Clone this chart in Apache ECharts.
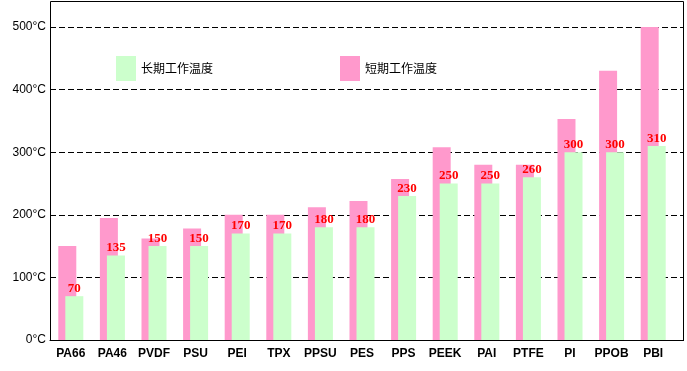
<!DOCTYPE html>
<html>
<head>
<meta charset="utf-8">
<script src="https://cdn.jsdelivr.net/npm/echarts@6/dist/echarts.min.js"></script>
<style>
html,body{margin:0;padding:0;background:#fff;}
#chart{width:687px;height:371px;}
</style>
</head>
<body>
<div id="chart"></div>
<script>
const categories = ['PA66','PA46','PVDF','PSU','PEI','TPX','PPSU','PES','PPS','PEEK','PAI','PTFE','PI','PPOB','PBI'];
const shortTerm = [150,195,162,178,200,200,212,222,257,308,280,280,353,430,500];
const longTerm = [70,135,150,150,170,170,180,180,230,250,250,260,300,300,310];
const yMin = 0, yMax = 500, yStep = 100;
const longName = '长期工作温度';
const shortName = '短期工作温度';

const chart = echarts.init(document.getElementById('chart'));
chart.setOption({
  animation: false,
  backgroundColor: '#fff',
  legend: [
    {data: [longName], left: 111, top: 51, itemWidth: 20, itemHeight: 25, icon: 'rect', selectedMode: false,
     textStyle: {fontSize: 12, color: '#000', fontFamily: 'Noto Sans CJK SC'}},
    {data: [shortName], left: 335, top: 51, itemWidth: 20, itemHeight: 25, icon: 'rect', selectedMode: false,
     textStyle: {fontSize: 12, color: '#000', fontFamily: 'Noto Sans CJK SC'}}
  ],
  grid: [
    {left: 50, right: 3, top: 27, bottom: 31},
    {left: 50, right: 13, top: 27, bottom: 31}
  ],
  xAxis: [
    {gridIndex: 0, type: 'category', data: categories, show: false},
    {gridIndex: 1, type: 'category', data: categories,
     axisLine: {show: true, lineStyle: {color: '#000', width: 1}},
     axisTick: {show: false},
     axisLabel: {interval: 0, margin: 8, fontSize: 12, fontWeight: 'bold', color: '#000', fontFamily: 'Liberation Sans'}}
  ],
  yAxis: [
    {gridIndex: 0, type: 'value', min: yMin, max: yMax, interval: yStep,
     axisLine: {show: false}, axisTick: {show: false},
     axisLabel: {margin: 4, fontSize: 12, color: '#000', fontFamily: 'Liberation Sans', formatter: '{value}°C'},
     splitLine: {show: true, lineStyle: {color: '#000', width: 1, type: [6, 3]}}},
    {gridIndex: 1, type: 'value', min: yMin, max: yMax, interval: yStep, show: false, splitLine: {show: false}}
  ],
  graphic: [
    {type: 'rect', z: 100, silent: true,
     shape: {x: 50.5, y: 1.5, width: 633, height: 339},
     style: {fill: 'none', stroke: '#000', lineWidth: 1}}
  ],
  series: [
    {name: shortName, type: 'bar', xAxisIndex: 1, yAxisIndex: 1, data: shortTerm,
     barWidth: 18, itemStyle: {color: '#ff99cc'}},
    {name: longName, type: 'bar', xAxisIndex: 1, yAxisIndex: 1, data: longTerm,
     barWidth: 18, barGap: '-61%', itemStyle: {color: '#ccffcc'},
     label: {show: true, position: 'top', distance: 1, color: '#ff0000', fontSize: 13, fontWeight: 'bold',
             fontFamily: 'Liberation Serif'}}
  ]
});
</script>
</body>
</html>
